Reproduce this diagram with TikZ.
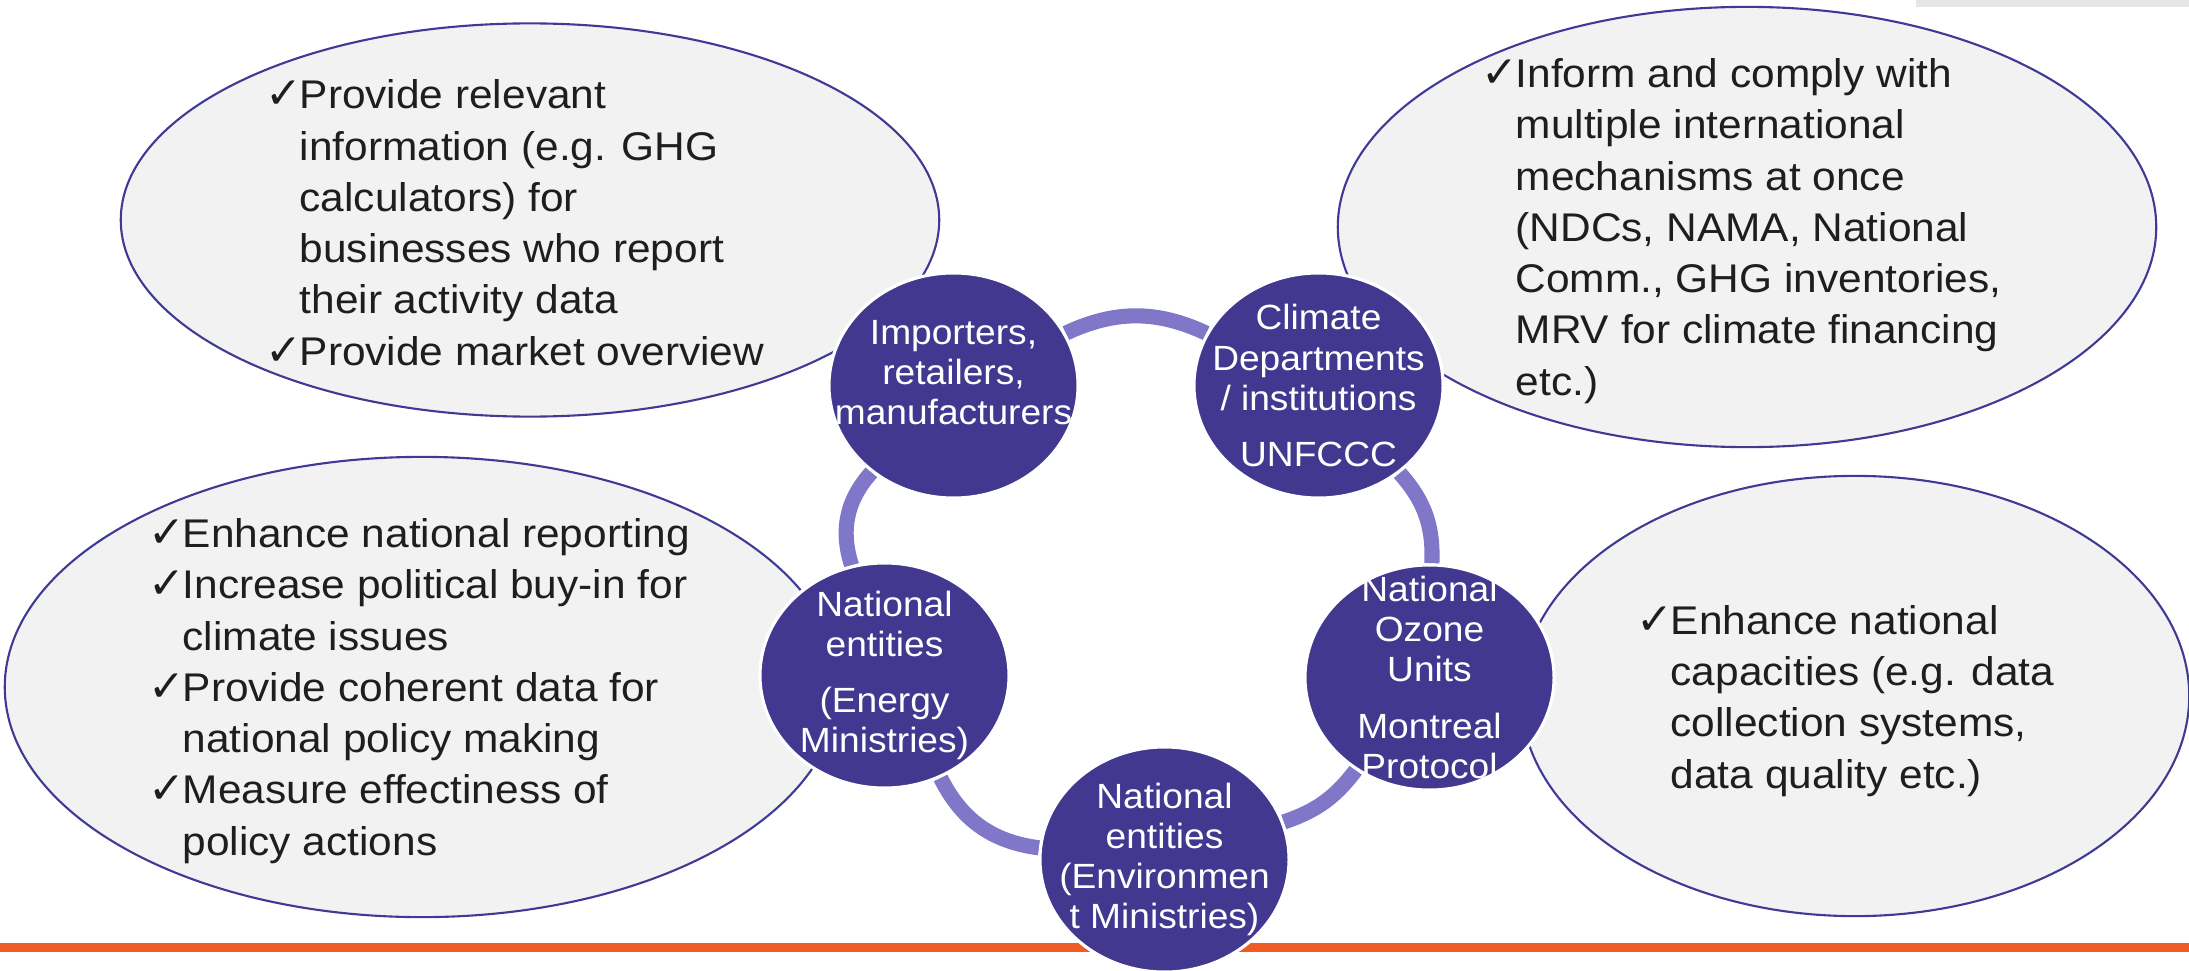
\documentclass[tikz,border=0pt]{standalone}
\usepackage{fontspec}
\setmainfont[FakeStretch=1.06]{Liberation Sans}
\newfontfamily\symfont{DejaVu Sans}
\usetikzlibrary{shapes.geometric, backgrounds}
\definecolor{bubbleFill}{HTML}{F2F2F2}
\definecolor{bubbleEdge}{HTML}{3F3A94}
\definecolor{actorPurple}{HTML}{43388F}
\definecolor{ringPurple}{HTML}{8177C9}
\definecolor{barOrange}{HTML}{EE5B25}
\definecolor{noteText}{HTML}{1E1E1E}
\definecolor{tabGrey}{HTML}{E6E6E6}

\newcommand{\chkmark}{\makebox[0.34cm][l]{\symfont\fontsize{12.5}{10}\selectfont ✓}}
\newcommand{\noteindent}{\hspace*{0.34cm}}

\begin{document}
\begin{tikzpicture}[
    x=0.01cm, y=-0.01cm,
    bubble/.style={ellipse, fill=bubbleFill, draw=bubbleEdge, line width=0.6pt, inner sep=0pt},
    note/.style={align=left, anchor=base west, text=noteText, inner sep=0pt,
                 font=\fontsize{11.38}{14.57}\selectfont},
    actor/.style={ellipse, fill=actorPurple, draw=white, line width=0.9pt,
                  minimum width=2.49cm, minimum height=2.25cm, inner sep=-0.6cm,
                  align=center, text=white, font=\fontsize{9.96}{11.38}\selectfont},
    ring/.style={color=ringPurple, line width=4.3pt}
]
\useasboundingbox (0,0) rectangle (2189,970);

% page furniture
\fill[tabGrey] (1916,0) rectangle (2189,7);
\fill[barOrange] (0,943) rectangle (2189,952);

% benefit bubbles
\node[bubble, minimum width=8.18cm, minimum height=3.93cm] (supplyinfo) at (530,220) {};
\node[bubble, minimum width=8.18cm, minimum height=4.40cm] (climateinfo) at (1747,227) {};
\node[bubble, minimum width=8.34cm, minimum height=4.60cm] (energyinfo) at (422,687) {};
\node[bubble, minimum width=6.68cm, minimum height=4.40cm] (ozoneinfo) at (1855,696) {};

% notes sit on the baseline of their last line
\node[note] (supplynote) at (265,365) {\chkmark Provide relevant\\
  \noteindent information (e.g. GHG\\
  \noteindent calculators) for\\
  \noteindent businesses who report\\
  \noteindent their activity data\\
  \chkmark Provide market overview};
\node[note] (climatenote) at (1481,395) {\chkmark Inform and comply with\\
  \noteindent multiple international\\
  \noteindent mechanisms at once\\
  \noteindent (NDCs, NAMA, National\\
  \noteindent Comm., GHG inventories,\\
  \noteindent MRV for climate financing\\
  \noteindent etc.)};
\node[note] (energynote) at (148,855) {\chkmark Enhance national reporting\\
  \chkmark Increase political buy-in for\\
  \noteindent climate issues\\
  \chkmark Provide coherent data for\\
  \noteindent national policy making\\
  \chkmark Measure effectiness of\\
  \noteindent policy actions};
\node[note] (ozonenote) at (1636,788) {\chkmark Enhance national\\
  \noteindent capacities (e.g. data\\
  \noteindent collection systems,\\
  \noteindent data quality etc.)};

% actors on the ring
\node[actor] (importers) at (953.5,385.5) {Importers,\\retailers,\\manufacturers\rule[-0.26cm]{0pt}{0pt}};
\node[actor] (climate) at (1318.5,385.5) {Climate\\Departments\\/ institutions\\[0.16cm]UNFCCC};
\node[actor] (energy) at (884.5,675.5) {National\\entities\\[0.16cm](Energy\\Ministries)};
\node[actor] (ozone) at (1429.5,677.5) {National\\Ozone\\Units\\[0.17cm]Montreal\\Protocol};
\node[actor] (environment) at (1164.5,859.5) {National\\entities\\(Environmen\\t Ministries)};

% ring links
\begin{scope}[on background layer]
\draw[ring] (importers) to[bend left=25] (climate);
\draw[ring] (climate) to[bend left=22] (ozone);
\draw[ring] (ozone) to[bend left=17] (environment);
\draw[ring] (environment) to[bend left=28] (energy);
\draw[ring] (energy) to[bend left=30] (importers);
\end{scope}
\end{tikzpicture}
\end{document}
